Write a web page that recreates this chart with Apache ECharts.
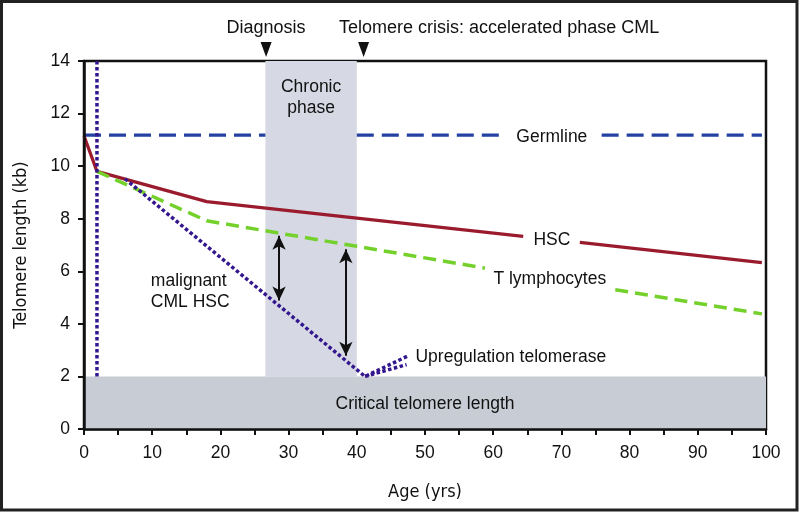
<!DOCTYPE html>
<html>
<head>
<meta charset="utf-8">
<script src="https://cdn.jsdelivr.net/npm/echarts@6/dist/echarts.min.js"></script>
<style>
  html, body { margin: 0; padding: 0; background: #fff; }
  #chart { width: 800px; height: 512px; }
</style>
</head>
<body>
<div id="chart"></div>
<script>
// values: [age (yrs), telomere length (kb)], null = gap in the line
const germline = [[0, 11.18], [26.6, 11.18], [26.6, null], [40, 11.18], [61.5, 11.18], [61.5, null], [75.9, 11.18], [99.4, 11.18]]
const hsc = [[0, 11.15], [1.9, 9.8], [18, 8.65], [40, 8.02], [64.4, 7.33], [64.4, null], [72.7, 7.1], [99.4, 6.33]]
const tLymph = [[1.9, 9.8], [18, 7.92], [40, 6.95], [58.8, 6.12], [58.8, null], [77.9, 5.3], [99.4, 4.38]]
const cmlHsc = [[6, 9.52], [41.2, 2.0], [47.5, 2.78]]
const cmlHscLow = [[41.2, 2.0], [47.3, 2.45]]
const cmlOnset = [[1.9, 2], [1.9, 14]]

const chronicPhase = [26.6, 40]   // age range, from 2 kb up to the top
const criticalLength = 2          // kb
const events = [[26.7, 14], [41, 14]]   // diagnosis, telomere crisis
const arrows = [[28.6, 7.35, 4.89], [38.4, 6.84, 2.79]]  // x, from, to

const noteText = ['Diagnosis', 'Telomere crisis: accelerated phase CML', 'Chronic\nphase', 'Germline', 'HSC',
  'T lymphocytes', 'malignant\nCML HSC', 'Upregulation telomerase', 'Critical telomere length']
const notePos = [[26.7, 15.26], [37.4, 15.26], [33.3, 12.6], [68.6, 11.11], [68.6, 7.17],
  [68.3, 5.71], [9.8, 5.21], [48.6, 2.74], [50, 0.96]]
const noteAlign = ['center', 'left', 'center', 'center', 'center', 'center', 'left', 'left', 'center']

const font = "'Liberation Sans', Arial, Helvetica, sans-serif"
const narrow = "'Liberation Sans Narrow', 'DejaVu Sans Condensed', 'Liberation Sans', sans-serif"
const ink = '#111'
const purple = '#34178f'

const chart = echarts.init(document.getElementById('chart'))

function lineSeries(name, data, color, type, width) {
  return {
    name, type: 'line', data, z: 3,
    showSymbol: false, symbol: 'none', connectNulls: false,
    lineStyle: { color, width, type, cap: 'butt' },
    itemStyle: { color },
  }
}

chart.setOption({
  animation: false,
  backgroundColor: '#fff',
  grid: { left: 84, right: 34, top: 61, bottom: 83, show: true, borderColor: ink, borderWidth: 2.5, backgroundColor: 'transparent' },
  xAxis: {
    type: 'value', min: 0, max: 100, interval: 10, z: 10,
    name: 'Age (yrs)', nameLocation: 'middle', nameGap: 54,
    nameTextStyle: { fontFamily: narrow, fontSize: 18, color: ink },
    axisLine: { lineStyle: { color: ink, width: 2.5 } },
    axisTick: { length: 6, lineStyle: { color: ink, width: 2 } },
    minorTick: { show: true, splitNumber: 2, length: 6, lineStyle: { color: ink, width: 2 } },
    axisLabel: { fontFamily: font, fontSize: 17.5, color: ink, margin: 15 },
    splitLine: { show: false },
  },
  yAxis: {
    type: 'value', min: 0, max: 14, interval: 2, z: 10,
    name: 'Telomere length (kb)', nameLocation: 'middle', nameGap: 54,
    nameTextStyle: { fontFamily: narrow, fontSize: 18, color: ink },
    axisLine: { show: true, lineStyle: { color: ink, width: 2.5 } },
    axisTick: { show: true, length: 6, lineStyle: { color: ink, width: 2 } },
    axisLabel: { fontFamily: font, fontSize: 17.5, color: ink, margin: 14 },
    splitLine: { show: false },
  },
  graphic: [{
    type: 'rect', silent: true, z: 100,
    shape: { x: 1.5, y: 1.5, width: 795.5, height: 508.5 },
    style: { fill: 'none', stroke: '#222', lineWidth: 3 },
  }],
  series: [
    {
      name: 'bands', type: 'line', data: [], z: 1, silent: true,
      markArea: {
        silent: true,
        data: [
          [{ coord: [chronicPhase[0], criticalLength], itemStyle: { color: '#d6d9e3' } }, { coord: [chronicPhase[1], 14] }],
          [{ coord: [0, 0], itemStyle: { color: '#c8ccd4' } }, { coord: [100, criticalLength] }],
        ],
      },
    },
    lineSeries('Germline', germline, '#2241a0', [17, 8], 3.2),
    lineSeries('HSC', hsc, '#9b1b2e', 'solid', 3.2),
    lineSeries('T lymphocytes', tLymph, '#74d12c', [13, 7], 3.5),
    lineSeries('malignant CML HSC', cmlHsc, purple, [3.5, 2.5], 3.5),
    lineSeries('malignant CML HSC low', cmlHscLow, purple, [3.5, 2.5], 3.5),
    lineSeries('CML onset', cmlOnset, purple, [3.5, 2.5], 3.5),
    {
      name: 'arrows', type: 'line', data: [], z: 4, silent: true,
      markLine: {
        silent: true, symbol: ['arrow', 'arrow'], symbolSize: [10, 14],
        label: { show: false },
        lineStyle: { color: ink, width: 2, type: 'solid', opacity: 1 },
        itemStyle: { color: ink },
        data: arrows.map(a => [{ coord: [a[0], a[1]] }, { coord: [a[0], a[2]] }]),
      },
    },
    {
      name: 'events', type: 'scatter', data: events, z: 5, clip: false, silent: true,
      symbol: 'triangle', symbolRotate: 180, symbolSize: [11, 15], symbolOffset: [0, -11.5],
      itemStyle: { color: ink, opacity: 1 },
    },
    {
      name: 'notes', type: 'scatter', z: 6, clip: false, silent: true, symbolSize: 0,
      itemStyle: { opacity: 1 },
      data: notePos.map((p, i) => ({
        value: p,
        label: {
          show: true, position: 'inside', formatter: noteText[i],
          align: noteAlign[i], verticalAlign: 'middle', opacity: 1,
          fontFamily: font, fontSize: i < 2 ? 18 : 17.5, lineHeight: 21, color: ink,
        },
      })),
    },
  ],
})
</script>
</body>
</html>
